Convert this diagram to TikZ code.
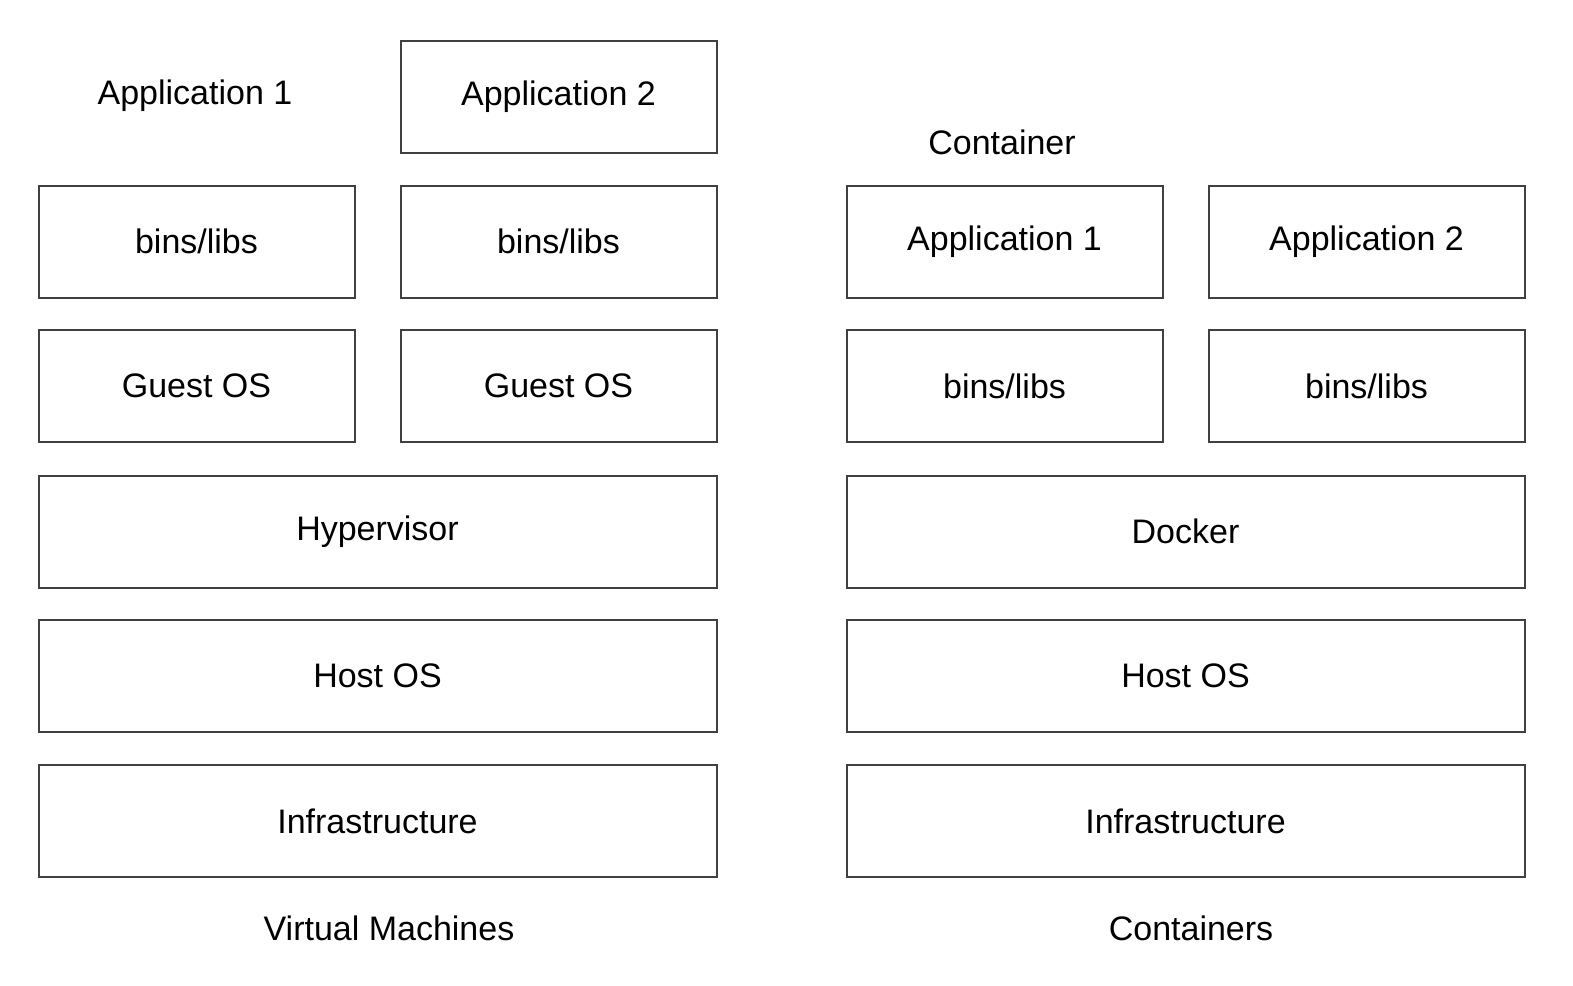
\documentclass[tikz,border=0pt]{standalone}
\usepackage{fontspec}
\setmainfont{Liberation Sans}
\begin{document}
\begin{tikzpicture}[x=0.5pt,y=-0.5pt,
	layer/.style={draw=black!75,line width=1pt,minimum height=56pt,inner sep=0pt,font=\fontsize{17}{20}\selectfont},
	small/.style={layer,minimum width=158pt},
	wide/.style={layer,minimum width=339pt},
	caption/.style={font=\fontsize{17}{20}\selectfont}]
\useasboundingbox (0,0) rectangle (1573,985);

% virtual machines
\node[caption] (vmapp1) at (195,96) {Application 1};
\node[small] (vmapp2) at (558.5,96.5) {Application 2};
\node[small] (vmbins1) at (196.5,241.5) {bins/libs};
\node[small] (vmbins2) at (558.5,241.5) {bins/libs};
\node[small] (vmos1) at (196.5,386) {Guest OS};
\node[small] (vmos2) at (558.5,386) {Guest OS};
\node[wide] (hyper) at (377.5,531.5) {Hypervisor};
\node[wide] (vmhost) at (377.5,676) {Host OS};
\node[wide] (vminfra) at (377.5,821) {Infrastructure};
\node[caption] (vmcap) at (389,928) {Virtual Machines};

% containers
\node[caption] (ctlabel) at (1002,142) {Container};
\node[small] (ctapp1) at (1004.5,241.5) {Application 1};
\node[small] (ctapp2) at (1366.5,241.5) {Application 2};
\node[small] (ctbins1) at (1004.5,386) {bins/libs};
\node[small] (ctbins2) at (1366.5,386) {bins/libs};
\node[wide] (docker) at (1185.5,531.5) {Docker};
\node[wide] (cthost) at (1185.5,676) {Host OS};
\node[wide] (ctinfra) at (1185.5,821) {Infrastructure};
\node[caption] (ctcap) at (1191,928) {Containers};
\end{tikzpicture}
\end{document}
